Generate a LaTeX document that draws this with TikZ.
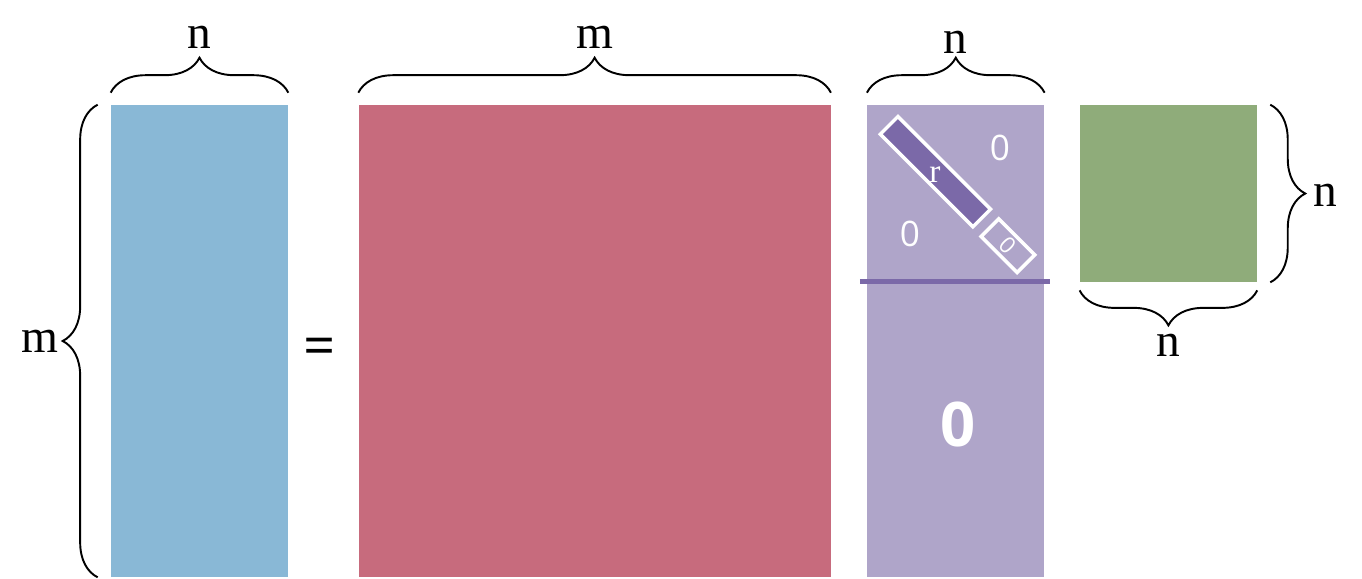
\documentclass[tikz,border=0pt]{standalone}
\usepackage{fontspec}
\setmainfont{Liberation Serif}
\newfontfamily\digitfont{Open Sans}
\usepackage{tikz}
\usetikzlibrary{positioning,calc,decorations.pathreplacing}
\definecolor{ablue}{RGB}{137,184,214}
\definecolor{qred}{RGB}{199,107,125}
\definecolor{rpurple}{RGB}{175,165,201}
\definecolor{rdark}{RGB}{123,105,168}
\definecolor{pgreen}{RGB}{143,172,122}
\tikzset{
  % Matrix block: plain filled rectangle, no border
  mat/.style={rectangle, draw=none, inner sep=0pt, minimum width=3.54cm, minimum height=9.44cm},
  mat-wide/.style={mat, minimum width=9.44cm},
  mat-square/.style={mat, minimum height=3.54cm},
  % Dimension brace and its label
  curly/.style={decorate, decoration={brace, amplitude=0.7cm}, line width=1.1pt},
  dimlbl/.style={font=\fontsize{27}{30}\selectfont, inner sep=0pt},
  eqsign/.style={font=\digitfont\fontsize{32}{34}\selectfont, inner sep=0pt},
  % White labels inside R
  zerolbl/.style={text=white, font=\digitfont\fontsize{20}{22}\selectfont, inner sep=0pt},
  bigzero/.style={text=white, font=\digitfont\bfseries\fontsize{35}{38}\selectfont, inner sep=0pt},
  ranklbl/.style={text=white, font=\fontsize{19}{21}\selectfont, inner sep=0pt},
  % Rotated diagonal blocks
  diagbar/.style={rectangle, draw=white, line width=0.07cm, fill=rdark, inner sep=0pt,
                  minimum width=2.62cm, minimum height=0.5cm},
  diagbox/.style={diagbar, fill=none, minimum width=1.02cm, text=white,
                  font=\digitfont\fontsize{13}{15}\selectfont},
  sepline/.style={draw=rdark, line width=0.1cm}
}
\begin{document}
\begin{tikzpicture}[x=0.02cm, y=-0.02cm]
\useasboundingbox (0,0) rectangle (1362,578);

% ============== A = Q R P^T ==============
\node[mat, fill=ablue] (amat) at (199.5,341) {};
\node[mat-wide, fill=qred, right=1.40cm of amat] (qmat) {};
\node[mat, fill=rpurple, right=0.72cm of qmat] (rmat) {};
\node[mat-square, fill=pgreen, below right=0cm and 0.70cm of rmat.north east] (pmat) {};

\node[eqsign] (eq) at ($(amat.east)!0.5!(qmat.west)+(-4,11)$) {=};

% ============== Braces ==============
\draw[curly] ($(amat.north west)+(0,-12)$) -- ($(amat.north east)+(0,-12)$);
\node[dimlbl] (an) at ($(amat.north)+(0,-67)$) {n};
\draw[curly] ($(amat.south west)+(-13,0)$) -- ($(amat.north west)+(-13,0)$);
\node[dimlbl] (am) at ($(amat.west)+(-71,0)$) {m};

\draw[curly] ($(qmat.north west)+(0,-12)$) -- ($(qmat.north east)+(0,-12)$);
\node[dimlbl] (qm) at ($(qmat.north)+(0,-67)$) {m};

\draw[curly] ($(rmat.north west)+(0,-12)$) -- ($(rmat.north east)+(0,-12)$);
\node[dimlbl] (rn) at ($(rmat.north)+(0,-62)$) {n};

\draw[curly] ($(pmat.north east)+(13,0)$) -- ($(pmat.south east)+(13,0)$);
\node[dimlbl] (pn1) at ($(pmat.east)+(68,2)$) {n};
\draw[curly] ($(pmat.south east)+(0,8)$) -- ($(pmat.south west)+(0,8)$);
\node[dimlbl] (pn2) at ($(pmat.south)+(0,63)$) {n};

% ============== Inside R ==============
\node[diagbar, rotate=-45] (rdiag) at ($(rmat.north west)+(68.5,67)$) {};
\node[ranklbl] (rr) at ($(rmat.north west)+(68,70)$) {r};
\node[diagbox, rotate=-45] (rzero) at ($(rmat.north west)+(141,141)$) {0};
\node[zerolbl] (rup) at ($(rmat.north west)+(133,43)$) {0};
\node[zerolbl] (rlow) at ($(rmat.north west)+(43,129)$) {0};
\coordinate (cutl) at ($(rmat.north west)+(-7,177)$);
\coordinate (cutr) at ($(rmat.north east)+(5,177)$);
\draw[sepline] (cutl) -- (cutr);
\node[bigzero] (rbot) at ($(rmat.north)+(2.5,320)$) {0};

\end{tikzpicture}
\end{document}
